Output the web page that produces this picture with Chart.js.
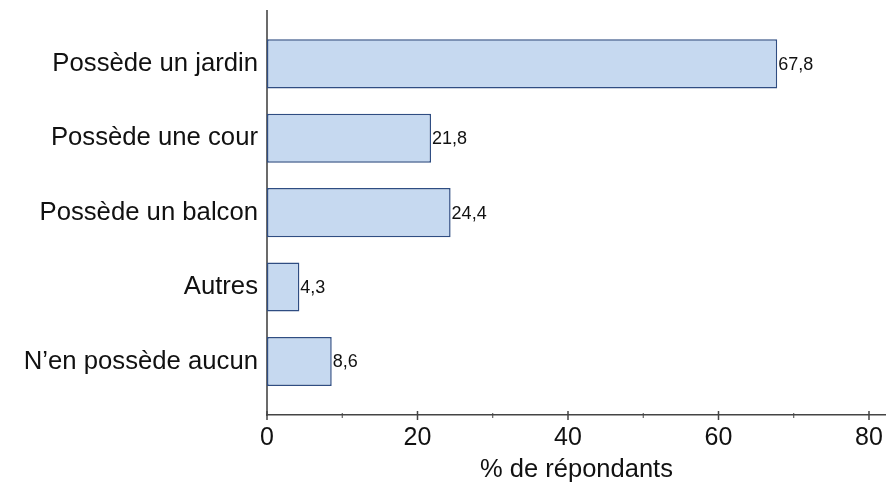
<!DOCTYPE html>
<html>
<head>
<meta charset="utf-8">
<script src="https://cdn.jsdelivr.net/npm/chart.js@4/dist/chart.umd.min.js"></script>
<style>
  body { margin: 0; background: #fff; }
  #wrap { width: 886px; height: 485px; }
</style>
</head>
<body>
<div id="wrap"><canvas id="chart" width="886" height="485"></canvas></div>
<script>
const categories = [
  "Possède un jardin",
  "Possède une cour",
  "Possède un balcon",
  "Autres",
  "N\u2019en possède aucun"
];
const values = [67.8, 21.8, 24.4, 4.3, 8.6];
const xTicks = [0, 20, 40, 60, 80];
const xMinorTicks = [10, 30, 50, 70];
const xTitle = "% de répondants";

const FONT = "'Liberation Sans', Arial, sans-serif";

// value labels at the end of each bar
const valueLabels = {
  id: "valueLabels",
  afterDatasetsDraw(chart) {
    const ctx = chart.ctx;
    const meta = chart.getDatasetMeta(0);
    ctx.save();
    ctx.font = "18px " + FONT;
    ctx.fillStyle = "#111";
    ctx.textAlign = "left";
    ctx.textBaseline = "middle";
    meta.data.forEach((bar, i) => {
      ctx.fillText(values[i].toFixed(1).replace(".", ","), bar.x + 1, bar.y + 1);
    });
    ctx.restore();
  }
};

// tick marks crossing the x axis (major + minor)
const axisTicks = {
  id: "axisTicks",
  afterDraw(chart) {
    const ctx = chart.ctx;
    const sx = chart.scales.x;
    const y0 = chart.chartArea.bottom;
    ctx.save();
    ctx.strokeStyle = "#444";
    ctx.lineWidth = 1.5;
    xTicks.forEach(v => {
      const px = sx.getPixelForValue(v);
      ctx.beginPath(); ctx.moveTo(px, y0 - 4); ctx.lineTo(px, y0 + 5); ctx.stroke();
    });
    ctx.lineWidth = 1;
    xMinorTicks.forEach(v => {
      const px = sx.getPixelForValue(v);
      ctx.beginPath(); ctx.moveTo(px, y0 - 2); ctx.lineTo(px, y0 + 3); ctx.stroke();
    });
    ctx.restore();
  }
};

new Chart(document.getElementById("chart").getContext("2d"), {
  type: "bar",
  data: {
    datasets: [{
      data: values.map((v, i) => ({ x: v, y: i })),
      backgroundColor: "#c6d9f0",
      borderColor: "#2f4d82",
      borderWidth: 1.5,
      borderSkipped: false,
      barPercentage: 0.66,
      categoryPercentage: 1
    }]
  },
  options: {
    indexAxis: "y",
    responsive: false,
    animation: false,
    layout: { padding: { top: 11, right: 0, bottom: 0, left: 0 } },
    plugins: {
      legend: { display: false },
      tooltip: { enabled: false }
    },
    scales: {
      y: {
        type: "linear",
        reverse: true,
        offset: false,
        min: -0.71,
        max: 4.72,
        afterFit(scale) {
          scale.width = 267;
          scale.paddingTop = 0;
          scale.paddingBottom = 0;
        },
        grid: { display: false, drawTicks: false, offset: false },
        border: { display: true, color: "#6b6b6b", width: 2 },
        ticks: {
          stepSize: 1,
          includeBounds: false,
          padding: 9,
          color: "#111",
          font: { family: FONT, size: 25.7 },
          callback: v => (Number.isInteger(v) && categories[v] !== undefined) ? categories[v] : ""
        }
      },
      x: {
        type: "linear",
        min: 0,
        max: 82.26,
        afterFit(scale) {
          scale.height = 70;
          scale.paddingLeft = 0;
          scale.paddingRight = 0;
        },
        grid: { display: false, drawTicks: false },
        border: { display: true, color: "#444", width: 1.5 },
        ticks: {
          stepSize: 20,
          includeBounds: false,
          padding: 8,
          maxRotation: 0,
          color: "#111",
          font: { family: FONT, size: 25 }
        },
        title: {
          display: true,
          text: xTitle,
          color: "#111",
          padding: { top: 0, bottom: 0 },
          font: { family: FONT, size: 25.5 }
        }
      }
    }
  },
  plugins: [valueLabels, axisTicks]
});
</script>
</body>
</html>
